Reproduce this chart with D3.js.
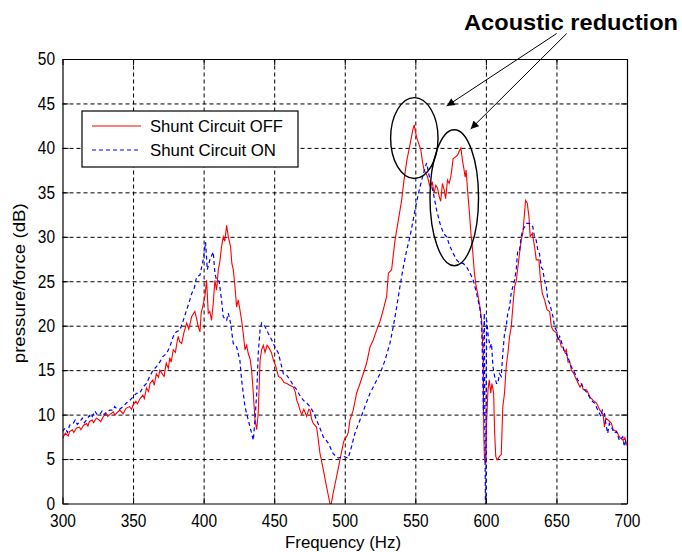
<!DOCTYPE html>
<html><head><meta charset="utf-8">
<script src="https://cdn.jsdelivr.net/npm/d3@7"></script>
<style>body{margin:0;background:#fff}svg{display:block}</style>
</head><body>
<script>
// ---- data ----
const xTicks = [300,350,400,450,500,550,600,650,700];
const yTicks = [0,5,10,15,20,25,30,35,40,45,50];
const seriesNames = ["Shunt Circuit OFF","Shunt Circuit ON"];
const annotationText = "Acoustic reduction";

const offFreq = [300,302,304,305,307,308,310,312,313,315,317,318,319,321,322,324,326,327,329,331,332,333.5,336,337,338,340.5,343,344,345,347.5,349,350,352,353,355,357,358,359.5,361,362,364,365,366.5,368,369,371,372,373.5,375,376,377,378.5,380,381,382,383,384.4,386,388,389.5,391.5,393.8,395,396.2,397.4,398.3,399.3,400.9,402.1,403.3,404.4,405.6,406.8,408,409.2,410.4,411.5,412.7,413.9,415,416.3,417.5,419.1,420,421,422.2,423.4,424.5,425.7,427,428.1,429.3,430.5,431.6,433,434,435.2,436.4,437.6,438.7,440,441.1,442.3,443.5,445,446,448,449.5,451,453,455,457,459,461,463.6,465,466,467,468.3,469.5,471,473,474.5,475.4,476.5,477.7,480,481,482.4,484.8,487.1,489.5,490.5,491.8,494.2,496.6,499,500,501.3,502.5,503.7,506,508.4,510.8,513.1,515.5,517.9,520.2,522.6,525,527.3,529.7,530.9,533.2,535.6,538,540.3,542,544,546.4,548.2,549.2,550.5,551.5,553.9,555,556.2,558.6,560,561,562,563.3,564.5,565.7,567,568,569.2,570.4,571.5,572.8,574,575.2,576.8,578.7,580,581,582.3,583.4,584.6,585.3,586,587,588.2,589.4,590.6,591.8,593,594.2,595.8,597,598,598.5,599,600,600.5,601.5,602.4,603.4,604.3,605.5,606.2,607,608,609.7,610.9,612,613.2,614.4,615.6,616.8,618,619.1,620.3,621.5,622.7,623.9,625,626.2,627.4,628.1,629.3,630.5,631.4,632.9,634.5,635.7,637.6,638.5,640,641.6,643.3,645.2,646.4,647.6,650,651,652.3,653.5,654.7,656,657,658.2,659.5,660.6,662,664.3,666.7,668,669,671.4,673.7,676,678.4,680.8,683.1,684,685,687.9,689,690.2,692.6,695,697.3,698.5,700];
const offVal = [7.3,7.9,7.6,8.1,8.3,8.0,8.5,8.6,8.3,8.8,9.0,8.7,9.2,9.4,9.1,9.6,9.4,9.2,9.8,10.1,9.8,10.0,10.3,10.0,10.1,10.5,10.1,10.4,10.7,10.9,10.6,11.1,11.5,11.2,11.8,12.2,11.8,13.0,12.6,13.5,13.9,13.3,14.6,14.2,15.0,14.5,14.3,15.8,15.2,16.4,15.9,17.3,17.0,18.0,18.8,18.2,18.0,19.2,20.3,19.6,21.0,21.6,20.8,19.9,19.3,21.5,22.1,23.3,25.1,21.4,21.6,20.6,22.5,25.1,24.0,26.3,27.2,28.9,30.0,29.5,31.3,30.0,28.9,27.0,26.3,24.4,22.1,22.9,21.8,20.5,19.1,17.3,17.8,16.9,16.2,15.0,12.4,9.4,8.3,10.2,16.1,17.3,17.8,17.0,17.8,17.6,17.0,16.1,15.5,14.3,14.1,13.6,13.5,13.3,13.1,12.5,11.6,11.2,10.5,10.0,10.6,9.8,10.6,10.5,9.5,9.0,8.6,7.5,5.7,3.8,1.9,0.0,0.0,1.2,3.0,4.9,6.8,7.3,7.5,8.0,9.4,10.5,12.4,13.5,14.6,15.8,17.6,18.4,19.5,20.5,21.8,23.3,25.9,26.3,29.6,31.9,34.1,36.4,38.6,40.5,42.0,42.6,41.5,40.9,39.8,38.5,37.5,36.8,35.8,35.6,36.2,34.9,35.8,35.5,34.5,34.0,36.0,35.3,34.3,36.4,36.0,36.8,38.8,39.0,39.2,39.6,40.0,38.6,37.5,36.7,37.5,35.3,33.0,30.4,28.5,26.1,24.5,23.6,22.1,20.6,16.9,7.9,4.9,4.5,9.0,12.8,13.9,12.4,13.5,12.4,8.0,5.3,4.9,5.3,5.5,10.9,12.4,15.4,16.9,18.8,19.9,22.1,24.4,25.0,26.6,28.2,29.6,30.4,32.7,34.1,33.8,32.3,30.0,30.4,28.9,27.4,27.4,25.5,23.6,22.9,21.8,21.6,19.9,19.5,19.2,18.5,18.4,17.6,17.6,17.0,17.3,15.9,15.9,15.0,14.7,13.9,13.1,13.4,12.8,12.8,12.0,11.6,11.3,10.5,10.0,8.6,9.6,9.2,9.0,8.3,8.1,7.4,7.1,7.4,6.5];

const onFreq = [300,302,303.5,305,307.5,309,310.5,312.2,314,315.5,317,319,320.5,321.7,323,324.5,326.4,328,329.5,331.1,333.5,335.9,337,338.2,340.5,342.9,345.3,347.7,350,352.4,354.7,357.1,359.5,361.8,364.2,366.6,368.9,371,373.8,376,378.5,380.5,383.2,385.6,388,389.5,391.5,393.5,395,397.4,399.7,401.4,402.6,404.4,406.8,408,409.2,411,412.7,413.9,416.3,417.5,419.1,421,423.4,425.7,426.9,428.1,429.3,431.6,434,435.2,436.4,437.6,438.7,440,441.1,443.5,445.9,448.3,450.6,453,454.2,456.5,458.5,461.3,463.5,466,468,470.7,473,475.4,478,480,482.4,484.8,488.3,491.8,495.4,499,502.5,504.8,507.2,510.8,514.3,517.9,521.4,525,528.5,532,534.4,536.8,539.1,541.5,543.9,546.2,548.6,551,553.3,555.7,558,560.4,562.8,565.1,567.5,569.9,572.2,574.6,577,579.3,581.7,584,586.4,588.8,591.1,593.5,595.9,597,597.7,598.2,598.6,598.9,599.3,599.7,600,600.3,600.6,601.7,603,604,605,606.2,607.5,608.5,609.6,610.9,612,613.2,614.4,615.5,616.8,617.9,619.1,620.3,621.5,622.6,623.9,625,626.2,627.4,628.6,629.7,631,632.1,633.3,634.4,635.7,636.8,638,639.2,640.4,641.5,642.8,643.9,645.2,646.3,647.6,648.6,649.9,651,652.3,654.7,655.7,657,659.4,660.4,662,664.1,665.1,667.5,669.8,672,674.6,677,679.3,681.6,682.5,684,685,686.3,687.5,689,691,692.5,694.6,697,698.1,699,700];
const onVal = [8.1,8.5,8.0,8.8,9.0,9.4,8.9,9.2,9.6,9.1,9.4,9.9,9.6,10.0,10.4,10.0,10.0,10.4,10.0,10.3,10.5,10.5,10.9,10.7,10.6,10.9,11.3,11.6,12.0,12.4,12.4,13.1,13.5,14.3,15.0,15.4,15.9,16.5,16.9,17.6,18.8,19.3,19.5,20.6,21.8,22.5,23.6,24.3,25.5,25.7,27.4,29.4,26.3,27.4,28.3,25.9,25.1,25.0,22.9,21.0,20.6,21.4,20.3,18.0,17.6,16.1,13.9,12.4,10.9,9.4,7.9,7.1,9.4,12.4,16.9,19.5,20.3,19.9,19.1,18.4,17.6,16.9,16.1,14.6,14.5,13.9,13.3,12.8,12.2,11.6,11.3,10.9,10.2,9.4,8.5,7.5,6.8,5.6,5.1,5.3,5.1,6.4,7.9,9.4,10.9,12.4,13.5,14.6,16.1,18.0,19.9,22.1,24.4,26.6,28.5,30.0,32.0,34.0,35.6,37.1,38.3,36.4,34.9,33.0,31.5,30.4,30.0,28.9,28.1,27.4,27.0,27.0,26.6,25.9,25.1,23.6,21.8,19.9,15.4,10.0,20.0,21.4,8.0,0.0,0.0,15.0,20.6,18.8,17.6,18.0,15.4,14.3,13.5,13.5,14.6,14.3,16.9,19.1,19.9,21.4,22.1,23.6,24.4,25.1,26.3,28.5,28.5,30.0,30.8,31.1,31.5,31.5,31.5,31.4,31.1,30.0,29.6,28.5,28.1,26.6,26.3,25.1,24.4,22.9,22.5,21.8,21.0,19.9,19.5,18.4,18.8,17.6,16.9,16.9,15.9,15.4,15.0,14.3,13.9,13.5,12.8,12.4,11.6,11.3,10.5,9.8,10.5,10.1,9.0,7.9,9.0,8.6,7.9,8.1,7.1,7.5,6.4,7.0,6.8];

// annotation ellipses in data units: [centre freq, centre dB, half-width Hz, half-height dB]
const ellipseCx = [549.3, 577.6];
const ellipseCy = [41.1, 34.4];
const ellipseRx = [16.8, 17.2];
const ellipseRy = [4.55, 7.65];

// ---- drawing ----
const W = 682, H = 552;
const svg = d3.select("body").append("svg").attr("width", W).attr("height", H)
  .style("font-family", "'Liberation Sans', Arial, Helvetica, sans-serif");

const x = d3.scaleLinear().domain([300,700]).range([62.5,627]);
const y = d3.scaleLinear().domain([0,50]).range([503.5,59]);

// grid
const gridX = svg.append("g").attr("transform", `translate(0,${y(0)})`)
  .call(d3.axisBottom(x).tickValues(xTicks.slice(1,-1)).tickSize(-(y(0)-y(50))).tickFormat(""));
const gridY = svg.append("g").attr("transform", `translate(${x(300)},0)`)
  .call(d3.axisLeft(y).tickValues(yTicks.slice(1,-1)).tickSize(-(x(700)-x(300))).tickFormat(""));
[gridX, gridY].forEach(g => {
  g.select(".domain").remove();
  g.selectAll("line").attr("stroke", "#000").attr("stroke-width", 1).attr("stroke-dasharray", "4,3");
});

// lines
const line = d3.line().x(d => x(d[0])).y(d => y(d[1]));
const offData = offFreq.map((f,i) => [f, offVal[i]]);
const onData = onFreq.map((f,i) => [f, onVal[i]]);
const clip = svg.append("clipPath").attr("id","clip").append("rect")
  .attr("x", x(300)).attr("y", y(50)).attr("width", x(700)-x(300)).attr("height", y(0)-y(50)+1);
svg.append("path").datum(offData).attr("d", line).attr("fill","none")
  .attr("stroke","#ff0000").attr("stroke-width",1.1).attr("clip-path","url(#clip)");
svg.append("path").datum(onData).attr("d", line).attr("fill","none")
  .attr("stroke","#0000ff").attr("stroke-width",1.2).attr("stroke-dasharray","4,3").attr("clip-path","url(#clip)");

// axes (ticks inside, all four sides)
const tickLen = 6;
const axB = svg.append("g").attr("transform", `translate(0,${y(0)})`)
  .call(d3.axisBottom(x).tickValues(xTicks).tickSize(-tickLen).tickPadding(10.5).tickSizeOuter(0));
const axT = svg.append("g").attr("transform", `translate(0,${y(50)})`)
  .call(d3.axisTop(x).tickValues(xTicks).tickSize(-tickLen).tickFormat("").tickSizeOuter(0));
const axL = svg.append("g").attr("transform", `translate(${x(300)},0)`)
  .call(d3.axisLeft(y).tickValues(yTicks).tickSize(-tickLen).tickPadding(7.5).tickSizeOuter(0));
const axR = svg.append("g").attr("transform", `translate(${x(700)},0)`)
  .call(d3.axisRight(y).tickValues(yTicks).tickSize(-tickLen).tickFormat("").tickSizeOuter(0));
[axB, axT, axL, axR].forEach(g => {
  g.select(".domain").attr("stroke","#000").attr("stroke-width",1.2);
  g.selectAll("line").attr("stroke","#000");
  g.selectAll("text").attr("fill","#000").attr("font-size","18px")
    .attr("font-family","'Liberation Sans', Arial, sans-serif")
    .each(function(){ const t=this.textContent; d3.select(this).attr("textLength", t.length*8.6).attr("lengthAdjust","spacingAndGlyphs"); });
});

// axis titles
svg.append("text").attr("x", 343).attr("y", 548).attr("text-anchor","middle")
  .attr("font-size","17px").attr("textLength",116).attr("lengthAdjust","spacingAndGlyphs")
  .text("Frequency (Hz)");
svg.append("text").attr("transform", `translate(25,${(y(0)+y(50))/2 + 2}) rotate(-90)`).attr("text-anchor","middle")
  .attr("font-size","17px").attr("textLength",160).attr("lengthAdjust","spacingAndGlyphs")
  .text("pressure/force (dB)");

// legend
const lg = svg.append("g");
lg.append("rect").attr("x",82).attr("y",111).attr("width",216).attr("height",56)
  .attr("fill","#fff").attr("stroke","#000").attr("stroke-width",1.2);
lg.append("line").attr("x1",92).attr("x2",141).attr("y1",126).attr("y2",126)
  .attr("stroke","#ff0000").attr("stroke-width",1.2);
lg.append("line").attr("x1",92).attr("x2",141).attr("y1",150).attr("y2",150)
  .attr("stroke","#0000ff").attr("stroke-width",1.2).attr("stroke-dasharray","4,3");
lg.append("text").attr("x",150).attr("y",132).attr("font-size","17px")
  .attr("textLength",133).attr("lengthAdjust","spacingAndGlyphs").text(seriesNames[0]);
lg.append("text").attr("x",150).attr("y",156).attr("font-size","17px")
  .attr("textLength",126).attr("lengthAdjust","spacingAndGlyphs").text(seriesNames[1]);

// annotations
const defs = svg.append("defs");
defs.append("marker").attr("id","arr").attr("viewBox","0 0 10 10").attr("refX",10).attr("refY",5)
  .attr("markerWidth",11).attr("markerHeight",8).attr("markerUnits","userSpaceOnUse").attr("orient","auto")
  .append("path").attr("d","M0,0 L10,5 L0,10 z").attr("fill","#000");
ellipseCx.forEach((c,i) => {
  svg.append("ellipse").attr("cx", x(c)).attr("cy", y(ellipseCy[i]))
    .attr("rx", x(c+ellipseRx[i]) - x(c)).attr("ry", y(ellipseCy[i]-ellipseRy[i]) - y(ellipseCy[i]))
    .attr("fill","none").attr("stroke","#000").attr("stroke-width",1.4);
});
svg.append("line").attr("x1",556.7).attr("y1",33.5).attr("x2",446.7).attr("y2",106)
  .attr("stroke","#000").attr("stroke-width",1).attr("marker-end","url(#arr)");
svg.append("line").attr("x1",566.7).attr("y1",33.5).attr("x2",470.7).attr("y2",129)
  .attr("stroke","#000").attr("stroke-width",1).attr("marker-end","url(#arr)");
svg.append("text").attr("x",464).attr("y",29.5).attr("font-size","22.5px").attr("font-weight","bold")
  .attr("textLength",214).attr("lengthAdjust","spacingAndGlyphs")
  .attr("font-family","'Liberation Sans', Arial, sans-serif").text(annotationText);
</script>
</body></html>
